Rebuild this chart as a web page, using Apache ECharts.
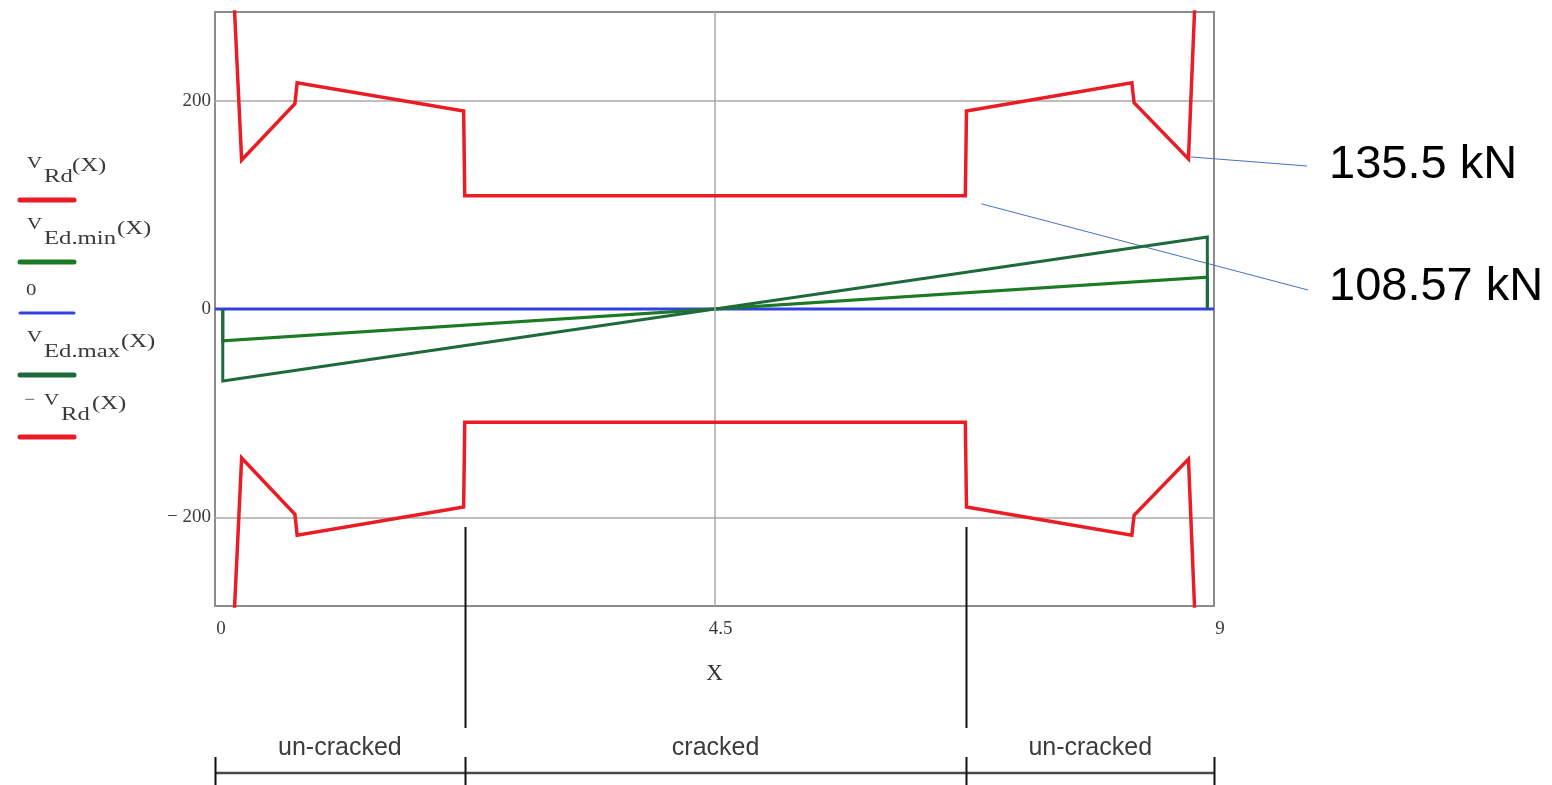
<!DOCTYPE html>
<html>
<head>
<meta charset="utf-8">
<title>V_Rd / V_Ed along the beam</title>
<script src="https://cdn.jsdelivr.net/npm/echarts@6.0.0/dist/echarts.min.js"></script>
<style>
    html, body { margin: 0; padding: 0; background: #fff; }
    #chart { width: 1552px; height: 785px; }
</style>
</head>
<body>
<div id="chart"></div>
<script>
// values (kN against X in m)
var vrdX = [0.17, 0.24, 0.72, 0.74, 2.24, 2.25, 6.76, 6.77, 8.26, 8.28, 8.77, 8.83];
var vrdY = [300, 143, 197, 217, 190, 108.57, 108.57, 190, 217, 198, 144, 300];
var edX = [0.07, 0.07, 8.94, 8.94];
var edMaxY = [0, -69, 69, 0];
var edMinY = [0, -30.5, 30.5, 0];
var zeroX = [0, 9];
var zeroY = [0, 0];
var xTicks = [0, 4.5, 9];
var yTicks = [-200, 0, 200];
var zoneEdges = [0, 2.25, 6.77, 9];
var zoneNames = ['un-cracked', 'cracked', 'un-cracked'];
var notes = ['135.5 kN', '108.57 kN'];

var RED = '#ea1c26';
var GREEN_MIN = '#1c7a24';
var GREEN_MAX = '#1f6a3c';
var BLUE = '#3340e6';
var SERIF = '"Liberation Serif", "Times New Roman", serif';
var SANS = '"Liberation Sans", Arial, sans-serif';

function pairs(xs, ys, sign) {
    var out = [];
    for (var i = 0; i < xs.length; i++) {
        out.push([xs[i], sign * ys[i]]);
    }
    return out;
}

function lineSeries(name, data, color, z, width) {
    return {
        name: name,
        type: 'line',
        data: data,
        showSymbol: false,
        symbol: 'none',
        z: z,
        lineStyle: { color: color, width: width || 3, join: 'miter' },
        silent: true
    };
}

var chart = echarts.init(document.getElementById('chart'));

chart.setOption({
    animation: false,
    backgroundColor: '#fff',
    grid: {
        left: 215, right: 338, top: 12, bottom: 179,
        show: true, borderColor: '#8c8c8c', borderWidth: 2
    },
    xAxis: {
        type: 'value', min: 0, max: 9, interval: 4.5,
        axisLine: { show: false },
        axisTick: { show: false },
        splitLine: { show: false },
        axisLabel: {
            margin: 14, padding: [0, 0, 0, 12],
            color: '#3a3a3a', fontFamily: SERIF, fontSize: 19
        },
        name: 'X', nameLocation: 'middle', nameGap: 56,
        nameTextStyle: { color: '#333', fontFamily: SERIF, fontSize: 23 }
    },
    yAxis: {
        type: 'value', min: -285, max: 285,
        axisLine: { show: false },
        axisTick: { show: false },
        splitLine: { show: false },
        axisLabel: {
            customValues: yTicks,
            margin: 4,
            color: '#3a3a3a', fontFamily: SERIF, fontSize: 19,
            formatter: function (v) { return v < 0 ? '\u2212 ' + (-v) : String(v); }
        }
    },
    series: [
        {
            type: 'line', data: [], z: 1, silent: true,
            markLine: {
                silent: true, symbol: 'none', label: { show: false },
                lineStyle: { color: '#a8a8a8', width: 1.5, type: 'solid' },
                data: yTicks.filter(function (v) { return v !== 0; }).map(function (v) { return { yAxis: v }; })
                    .concat([{ xAxis: xTicks[1] }])
            }
        },
        lineSeries('0', pairs(zeroX, zeroY, 1), BLUE, 3),
        lineSeries('VEd.min(X)', pairs(edX, edMinY, 1), GREEN_MIN, 4),
        lineSeries('VEd.max(X)', pairs(edX, edMaxY, 1), GREEN_MAX, 4),
        lineSeries('VRd(X)', pairs(vrdX, vrdY, 1), RED, 5, 3.5),
        lineSeries('-VRd(X)', pairs(vrdX, vrdY, -1), RED, 5, 3.5)
    ]
});

// ---- Mathcad style legend on the left
function txt(x, y, s, size, fill) {
    return {
        type: 'text', x: x, y: y, scaleX: 1.3, silent: true,
        style: {
            text: s, fontFamily: SERIF, fontSize: size,
            fill: fill || '#3a3a3a', verticalAlign: 'top', align: 'left'
        }
    };
}

function swatch(y, color, w) {
    return {
        type: 'line', silent: true,
        shape: { x1: 20, y1: y, x2: 74, y2: y },
        style: { stroke: color, lineWidth: w, lineCap: 'round' }
    };
}

var graphics = [];

// V_Rd(X)
graphics.push(txt(27, 156, 'V', 16), txt(44, 168, 'Rd', 19), txt(72, 157, '(X)', 19), swatch(200, RED, 5));
// V_Ed.min(X)
graphics.push(txt(27, 217, 'V', 16), txt(44, 230, 'Ed.min', 19), txt(117, 220, '(X)', 19), swatch(262, GREEN_MIN, 5));
// 0
graphics.push(txt(26, 283, '0', 16), swatch(313, BLUE, 3));
// V_Ed.max(X)
graphics.push(txt(27, 330, 'V', 16), txt(44, 343, 'Ed.max', 19), txt(121, 333, '(X)', 19), swatch(375, GREEN_MAX, 5));
// - V_Rd(X)
graphics.push(txt(24, 393, '\u2212', 15), txt(44, 393, 'V', 16), txt(61, 406, 'Rd', 19), txt(92, 395, '(X)', 19), swatch(437, RED, 5));

// ---- cracked / un-cracked zones under the plot
function px(x, y) { return chart.convertToPixel({ gridIndex: 0 }, [x, y]); }

var baseY = 773;
var left = px(zoneEdges[0], 0)[0];
var right = px(zoneEdges[zoneEdges.length - 1], 0)[0];
graphics.push({
    type: 'line', silent: true,
    shape: { x1: left, y1: baseY, x2: right, y2: baseY },
    style: { stroke: '#4a4a4a', lineWidth: 2.5 }
});
for (var i = 0; i < zoneEdges.length; i++) {
    var ex = Math.round(px(zoneEdges[i], 0)[0]) + 0.5;
    graphics.push({
        type: 'line', silent: true,
        shape: { x1: ex, y1: 757, x2: ex, y2: 785 },
        style: { stroke: '#111', lineWidth: 2 }
    });
    if (i > 0 && i < zoneEdges.length - 1) {
        graphics.push({
            type: 'line', silent: true,
            shape: { x1: ex, y1: 527, x2: ex, y2: 728 },
            style: { stroke: '#111', lineWidth: 2 }
        });
    }
}
for (var j = 0; j < zoneNames.length; j++) {
    var cx = (px(zoneEdges[j], 0)[0] + px(zoneEdges[j + 1], 0)[0]) / 2;
    graphics.push({
        type: 'text', silent: true, x: cx, y: 748,
        style: {
            text: zoneNames[j], fontFamily: SANS, fontSize: 25,
            fill: '#3c3c3c', align: 'center', verticalAlign: 'middle'
        }
    });
}

// ---- call-outs on the right
var trough = px(vrdX[10], vrdY[10]);
var flatEnd = px(vrdX[7], vrdY[6]);
var callouts = [
    { from: [trough[0] + 2, trough[1] - 2], to: [1307, 166], textY: 165 },
    { from: [flatEnd[0] + 15, flatEnd[1] + 8], to: [1308, 290], textY: 287 }
];
callouts.forEach(function (c, k) {
    graphics.push({
        type: 'line', silent: true,
        shape: { x1: c.from[0], y1: c.from[1], x2: c.to[0], y2: c.to[1] },
        style: { stroke: '#4472c4', lineWidth: 1 }
    });
    graphics.push({
        type: 'text', silent: true, x: 1329, y: c.textY,
        style: {
            text: notes[k], fontFamily: SANS, fontSize: 47,
            fill: '#000', align: 'left', verticalAlign: 'middle'
        }
    });
});

chart.setOption({ graphic: graphics });
</script>
</body>
</html>
